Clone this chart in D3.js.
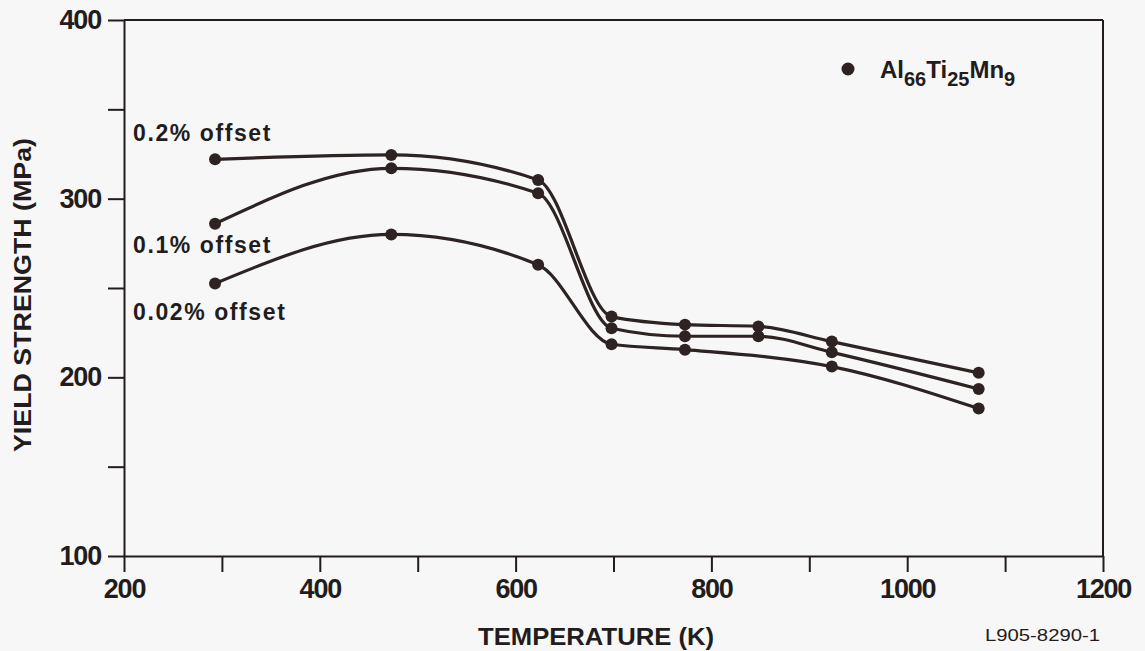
<!DOCTYPE html>
<html>
<head>
<meta charset="utf-8">
<script src="https://cdn.jsdelivr.net/npm/d3@7"></script>
<style>
  html, body { margin: 0; padding: 0; background: #f7f7f7; }
  svg { display: block; font-family: "Liberation Sans", Arial, Helvetica, sans-serif; }
</style>
</head>
<body>
<svg id="chart" width="1145" height="651"></svg>
<script>
// ---- data ----
const temps = [293, 473, 623, 698, 773, 848, 923, 1073];
const offset02 = [322, 324.5, 310.5, 234, 229.5, 228.5, 220, 202.5];
const offset01 = [286, 317, 303, 227.5, 223, 223, 214, 193.5];
const temps002 = [293, 473, 623, 698, 773, 923, 1073];
const offset002 = [252.5, 280, 263, 218.5, 215.5, 206, 182.5];
const seriesLabels = ["0.2% offset", "0.1% offset", "0.02% offset"];
const xTicks = [200, 300, 400, 500, 600, 700, 800, 900, 1000, 1100, 1200];
const xTickLabels = ["200", "", "400", "", "600", "", "800", "", "1000", "", "1200"];
const yTicks = [100, 150, 200, 250, 300, 350, 400];
const yTickLabels = ["100", "", "200", "", "300", "", "400"];

const svg = d3.select("#chart");
const ink = "#231c1c";
const lineInk = "#2e2323";

const x = d3.scaleLinear().domain([200, 1200]).range([124, 1103]);
const y = d3.scaleLinear().domain([100, 400]).range([556, 20]);

// frame (top and right)
svg.append("line").attr("x1", x(200)).attr("x2", x(1200)).attr("y1", y(400)).attr("y2", y(400))
  .attr("stroke", ink).attr("stroke-width", 2);
svg.append("line").attr("x1", x(1200)).attr("x2", x(1200)).attr("y1", y(400)).attr("y2", y(100))
  .attr("stroke", ink).attr("stroke-width", 2);

// bottom axis
const xAxis = d3.axisBottom(x).tickValues(xTicks)
  .tickFormat((d, i) => xTickLabels[i]).tickSize(16).tickSizeOuter(0).tickPadding(7);
const gx = svg.append("g").attr("transform", `translate(0,${y(100)})`).call(xAxis);
gx.select(".domain").attr("stroke", ink).attr("stroke-width", 2);
gx.selectAll(".tick line").attr("stroke", ink).attr("stroke-width", 2);
gx.selectAll(".tick text").attr("fill", ink).attr("font-size", 27).attr("font-weight", "bold")
  .attr("letter-spacing", -1.2);

// left axis
const yAxis = d3.axisLeft(y).tickValues(yTicks)
  .tickFormat((d, i) => yTickLabels[i]).tickSize(16).tickSizeOuter(0).tickPadding(7);
const gy = svg.append("g").attr("transform", `translate(${x(200)},0)`).call(yAxis);
gy.select(".domain").attr("stroke", ink).attr("stroke-width", 2);
gy.selectAll(".tick line").attr("stroke", ink).attr("stroke-width", 2);
gy.selectAll(".tick text").attr("fill", ink).attr("font-size", 27).attr("font-weight", "bold")
  .attr("letter-spacing", -1.2);

// axis titles
svg.append("text").attr("x", 596).attr("y", 645).attr("text-anchor", "middle")
  .attr("font-size", 23).attr("font-weight", "bold").attr("fill", ink)
  .attr("textLength", 236).attr("lengthAdjust", "spacingAndGlyphs")
  .text("TEMPERATURE (K)");
svg.append("text").attr("transform", "translate(31,295) rotate(-90)").attr("text-anchor", "middle")
  .attr("font-size", 23).attr("font-weight", "bold").attr("fill", ink)
  .attr("textLength", 314).attr("lengthAdjust", "spacingAndGlyphs")
  .text("YIELD STRENGTH (MPa)");
svg.append("text").attr("x", 985).attr("y", 641)
  .attr("font-size", 16).attr("fill", ink)
  .attr("textLength", 115).attr("lengthAdjust", "spacingAndGlyphs")
  .text("L905-8290-1");

// series
const series = [
  { t: temps, v: offset02 },
  { t: temps, v: offset01 },
  { t: temps002, v: offset002 }
];
const line = d3.line().x(d => x(d[0])).y(d => y(d[1])).curve(d3.curveMonotoneX);
series.forEach(s => {
  const pts = s.t.map((t, i) => [t, s.v[i]]);
  svg.append("path").attr("d", line(pts)).attr("fill", "none")
    .attr("stroke", lineInk).attr("stroke-width", 3.2);
  svg.append("g").selectAll("circle").data(pts).join("circle")
    .attr("cx", d => x(d[0])).attr("cy", d => y(d[1])).attr("r", 6)
    .attr("fill", lineInk);
});

// series labels
const labelPos = [[133, 141], [133, 253], [133, 320]];
seriesLabels.forEach((t, i) => {
  svg.append("text").attr("x", labelPos[i][0]).attr("y", labelPos[i][1])
    .attr("font-size", 23).attr("font-weight", "bold").attr("fill", ink)
    .attr("letter-spacing", 1.6)
    .text(t);
});

// legend
svg.append("circle").attr("cx", 848).attr("cy", 69).attr("r", 6.5).attr("fill", lineInk);
const leg = svg.append("text").attr("x", 880).attr("y", 78)
  .attr("font-size", 24).attr("font-weight", "bold").attr("fill", ink);
leg.append("tspan").text("Al");
leg.append("tspan").attr("dy", 8).attr("font-size", 20).text("66");
leg.append("tspan").attr("dy", -8).text("Ti");
leg.append("tspan").attr("dy", 8).attr("font-size", 20).text("25");
leg.append("tspan").attr("dy", -8).text("Mn");
leg.append("tspan").attr("dy", 8).attr("font-size", 20).text("9");
</script>
</body>
</html>
